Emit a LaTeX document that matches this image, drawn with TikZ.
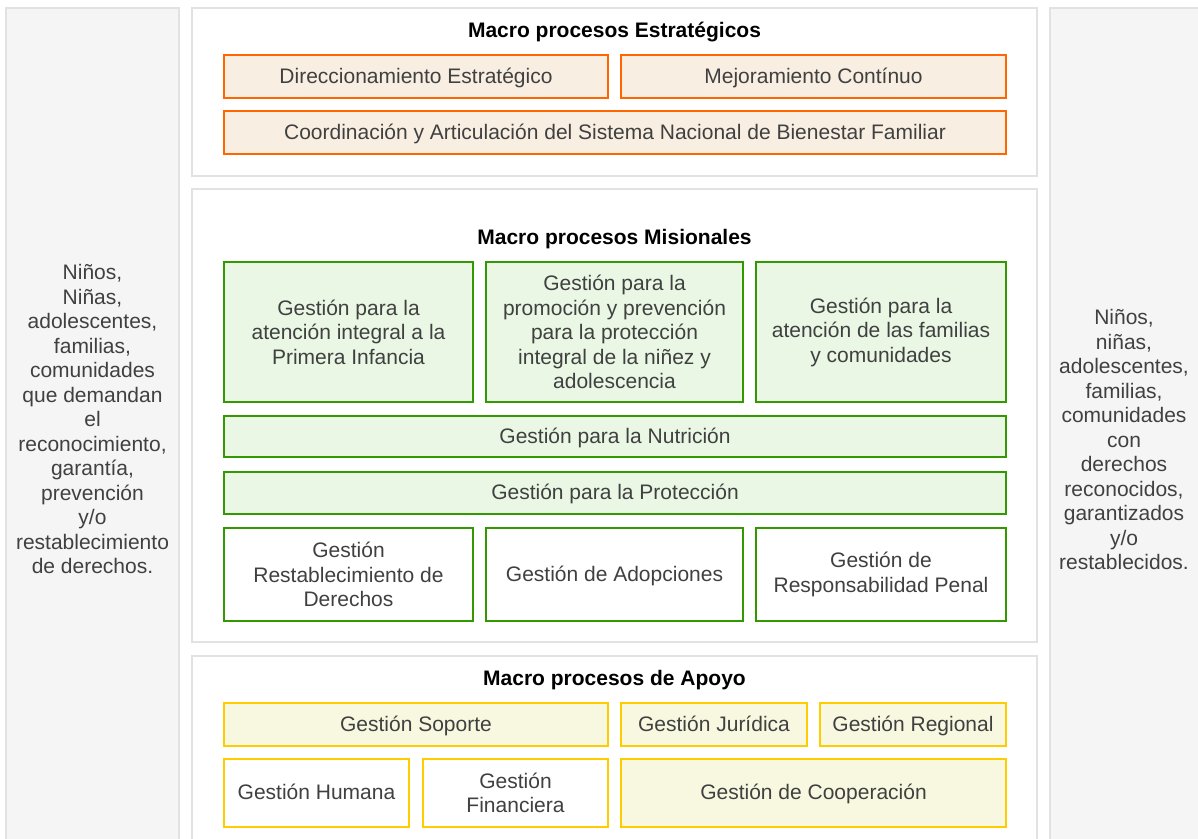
\documentclass[tikz,border=0pt]{standalone}
\usepackage{fontspec}
\setmainfont{Liberation Sans}
\definecolor{panelfill}{HTML}{F5F5F5}
\definecolor{panelline}{HTML}{E2E2E2}
\definecolor{txt}{HTML}{404040}
\definecolor{oline}{HTML}{FF6600}
\definecolor{ofill}{HTML}{F8EFE2}
\definecolor{gline}{HTML}{339900}
\definecolor{gfill}{HTML}{E9F7E4}
\definecolor{yline}{HTML}{FFCC00}
\definecolor{yfill}{HTML}{F8F8E0}
\tikzset{
  base/.style={rectangle, inner sep=0pt, outer sep=0pt, align=center, text=txt,
    font=\fontsize{21}{24.5}\selectfont},
  single/.style={text height=16pt, text depth=2.4pt},
  panel/.style={base, draw=panelline, line width=1.6pt, fill=panelfill},
  section/.style={base, draw=panelline, line width=1.6pt, fill=white},
  obox/.style={base, draw=oline, line width=2pt, fill=ofill},
  gbox/.style={base, draw=gline, line width=2pt, fill=gfill},
  gwbox/.style={base, draw=gline, line width=2pt, fill=white},
  ybox/.style={base, draw=yline, line width=2pt, fill=yfill},
  ywbox/.style={base, draw=yline, line width=2pt, fill=white},
  title/.style={font=\bfseries\fontsize{21}{24.5}\selectfont, text=black, inner sep=0pt},
  sidetext/.style={base, text=txt}
}
\newcommand{\bx}[7]{% style, name, x1, y1, x2, y2, text
  \node[#1, minimum width={(#5)-(#3)}, minimum height={(#6)-(#4)}] (#2) at ({((#3)+(#5))/2},{((#4)+(#6))/2}) {#7};}
\begin{document}
\begin{tikzpicture}[x=1pt,y=-1pt]
\useasboundingbox (0,0) rectangle (1198,838);
\begin{scope}
\clip (0,0) rectangle (1198,838);
% side panels
\node[panel, minimum width=173pt, minimum height=850pt, anchor=north west] (lp) at (6,8) {};
\node[panel, minimum width=160pt, minimum height=850pt, anchor=north west] (rp) at (1050,8) {};
% sections
\node[section, minimum width=845pt, minimum height=168pt, anchor=north west] (s1) at (192,8) {};
\node[section, minimum width=845pt, minimum height=453pt, anchor=north west] (s2) at (192,189) {};
\node[section, minimum width=845pt, minimum height=200pt, anchor=north west] (s3) at (192,656) {};
\end{scope}
% side texts
\node[sidetext] (lt) at (92.5,419) {Niños,\\Niñas,\\adolescentes,\\familias,\\comunidades\\que demandan\\el\\reconocimiento,\\garantía,\\prevención\\y/o\\restablecimiento\\de derechos.};
\node[sidetext] (rt) at (1124,439.5) {Niños,\\niñas,\\adolescentes,\\familias,\\comunidades\\con\\derechos\\reconocidos,\\garantizados\\y/o\\restablecidos.};
% titles
\node[title] (t1) at (614.5,32) {Macro procesos Estratégicos};
\node[title] (t2) at (614.5,239) {Macro procesos Misionales};
\node[title] (t3) at (614.5,680) {Macro procesos de Apoyo};
% strategic
\bx{obox,single}{e1}{224}{55}{608}{98}{Direccionamiento Estratégico}
\bx{obox,single}{e2}{621}{55}{1006}{98}{Mejoramiento Contínuo}
\bx{obox,single}{e3}{224}{111}{1006}{154}{Coordinación y Articulación del Sistema Nacional de Bienestar Familiar}
% missional
\bx{gbox}{m1}{224}{262}{473}{402}{Gestión para la\\atención integral a la\\Primera Infancia}
\bx{gbox}{m2}{486}{262}{743}{402}{Gestión para la\\promoción y prevención\\para la protección\\integral de la niñez y\\adolescencia}
\bx{gbox}{m3}{756}{262}{1006}{402}{Gestión para la\\atención de las familias\\y comunidades}
\bx{gbox,single}{m4}{224}{416}{1006}{457}{Gestión para la Nutrición}
\bx{gbox,single}{m5}{224}{472}{1006}{514}{Gestión para la Protección}
\bx{gwbox}{m6}{224}{528}{473}{621}{Gestión\\Restablecimiento de\\Derechos}
\bx{gwbox,single}{m7}{486}{528}{743}{621}{Gestión de Adopciones}
\bx{gwbox}{m8}{756}{528}{1006}{621}{Gestión de\\Responsabilidad Penal}
% support
\bx{ybox,single}{a1}{224}{703}{608}{746}{Gestión Soporte}
\bx{ybox,single}{a2}{621}{703}{807}{746}{Gestión Jurídica}
\bx{ybox,single}{a3}{820}{703}{1006}{746}{Gestión Regional}
\bx{ywbox,single}{a4}{224}{759}{409}{827}{Gestión Humana}
\bx{ywbox}{a5}{423}{759}{608}{827}{Gestión\\Financiera}
\bx{ybox,single}{a6}{621}{759}{1006}{827}{Gestión de Cooperación}
\end{tikzpicture}
\end{document}
